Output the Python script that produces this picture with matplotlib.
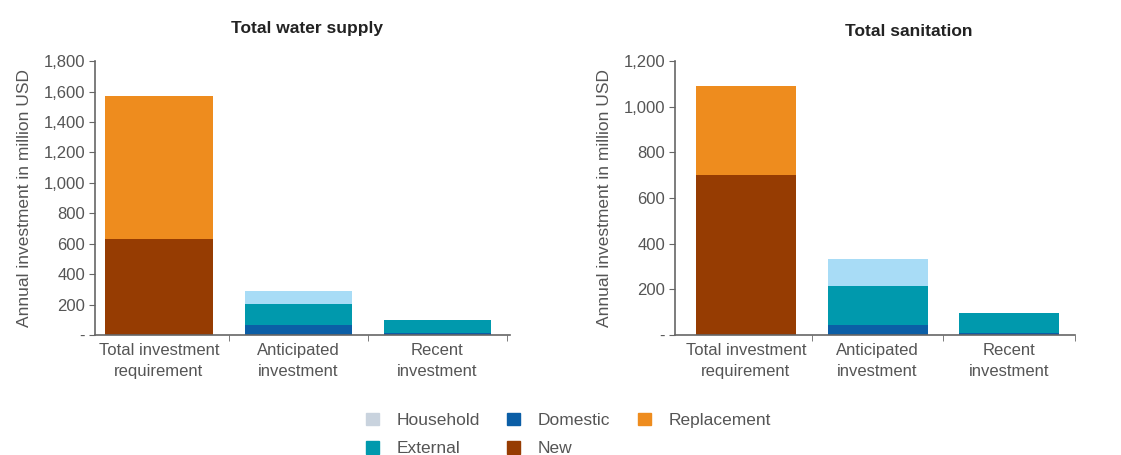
import numpy as np
import matplotlib.pyplot as plt
from matplotlib.patches import Patch
from matplotlib.ticker import FuncFormatter

plt.rcParams['font.family'] = ['Liberation Sans', 'DejaVu Sans']

categories = ["Total investment\nrequirement", "Anticipated\ninvestment", "Recent\ninvestment"]
series = ["New", "Replacement", "Domestic", "External", "Household"]

# million USD per year, stacked bottom to top
water = {
    "New":         [630, 0, 0],
    "Replacement": [940, 0, 0],
    "Domestic":    [0, 65, 15],
    "External":    [0, 140, 85],
    "Household":   [0, 85, 0],
}
sanitation = {
    "New":         [700, 0, 0],
    "Replacement": [390, 0, 0],
    "Domestic":    [0, 45, 10],
    "External":    [0, 170, 87],
    "Household":   [0, 120, 0],
}

colors = {
    "New": "#963c02",
    "Replacement": "#ee8c1e",
    "Domestic": "#0b5ea6",
    "External": "#0099ad",
    "Household": "#a8dcf6",
}
legend_colors = {
    "Household": "#c9d3de",
    "Domestic": "#0b5ea6",
    "Replacement": "#ee8c1e",
    "External": "#0099ad",
    "New": "#963c02",
}

grey = "#555555"
axis_col = "#666666"

fig = plt.figure(figsize=(11.21, 4.55), dpi=100)
ax1 = fig.add_axes([0.0847, 0.2637, 0.370, 0.602])
ax2 = fig.add_axes([0.602, 0.2637, 0.357, 0.602])


def fmt(v, pos):
    return "-" if v == 0 else f"{int(v):,}"


def draw(ax, data, ymax, step, xlim, width):
    x = np.arange(len(categories))
    bottom = np.zeros(len(categories))
    for s in series:
        vals = np.array(data[s], dtype=float)
        ax.bar(x, vals, width, bottom=bottom, color=colors[s], linewidth=0)
        bottom += vals
    ax.set_ylim(0, ymax)
    ax.set_xlim(*xlim)
    ax.set_yticks(np.arange(0, ymax + 1, step))
    ax.yaxis.set_major_formatter(FuncFormatter(fmt))
    ax.set_xticks(x)
    ax.set_xticklabels(categories, color=grey, fontsize=12, linespacing=1.45)
    ax.set_xticks([0.5, 1.5, 2.5], minor=True)
    ax.tick_params(axis="x", which="major", length=0, pad=6)
    ax.tick_params(axis="x", which="minor", length=4, direction="out", color=axis_col)
    ax.tick_params(axis="y", length=4, color=axis_col, labelcolor=grey, labelsize=12, pad=3)
    for side in ["top", "right"]:
        ax.spines[side].set_visible(False)
    for side in ["left", "bottom"]:
        ax.spines[side].set_color(axis_col)
        ax.spines[side].set_linewidth(1.2)
    ax.set_ylabel("Annual investment in million USD", color=grey, fontsize=12.5, labelpad=8)


draw(ax1, water, 1800, 200, (-0.46, 2.52), 0.77)
draw(ax2, sanitation, 1200, 200, (-0.54, 2.42), 0.76)

fig.text(0.274, 0.937, "Total water supply", ha="center", va="center",
         fontsize=12.5, fontweight="bold", color="#222222")
fig.text(0.811, 0.930, "Total sanitation", ha="center", va="center",
         fontsize=12.5, fontweight="bold", color="#222222")

order = ["Household", "External", "Domestic", "New", "Replacement"]
handles = [Patch(color=legend_colors[s], label=s) for s in order]
fig.legend(handles=handles, loc="center", bbox_to_anchor=(0.507, 0.045), ncol=3,
           frameon=False, fontsize=12.5, handlelength=0.75, handleheight=0.75,
           columnspacing=1.6, labelspacing=0.75, handletextpad=1.0,
           labelcolor=grey)

fig.savefig("out.png", dpi=100)
